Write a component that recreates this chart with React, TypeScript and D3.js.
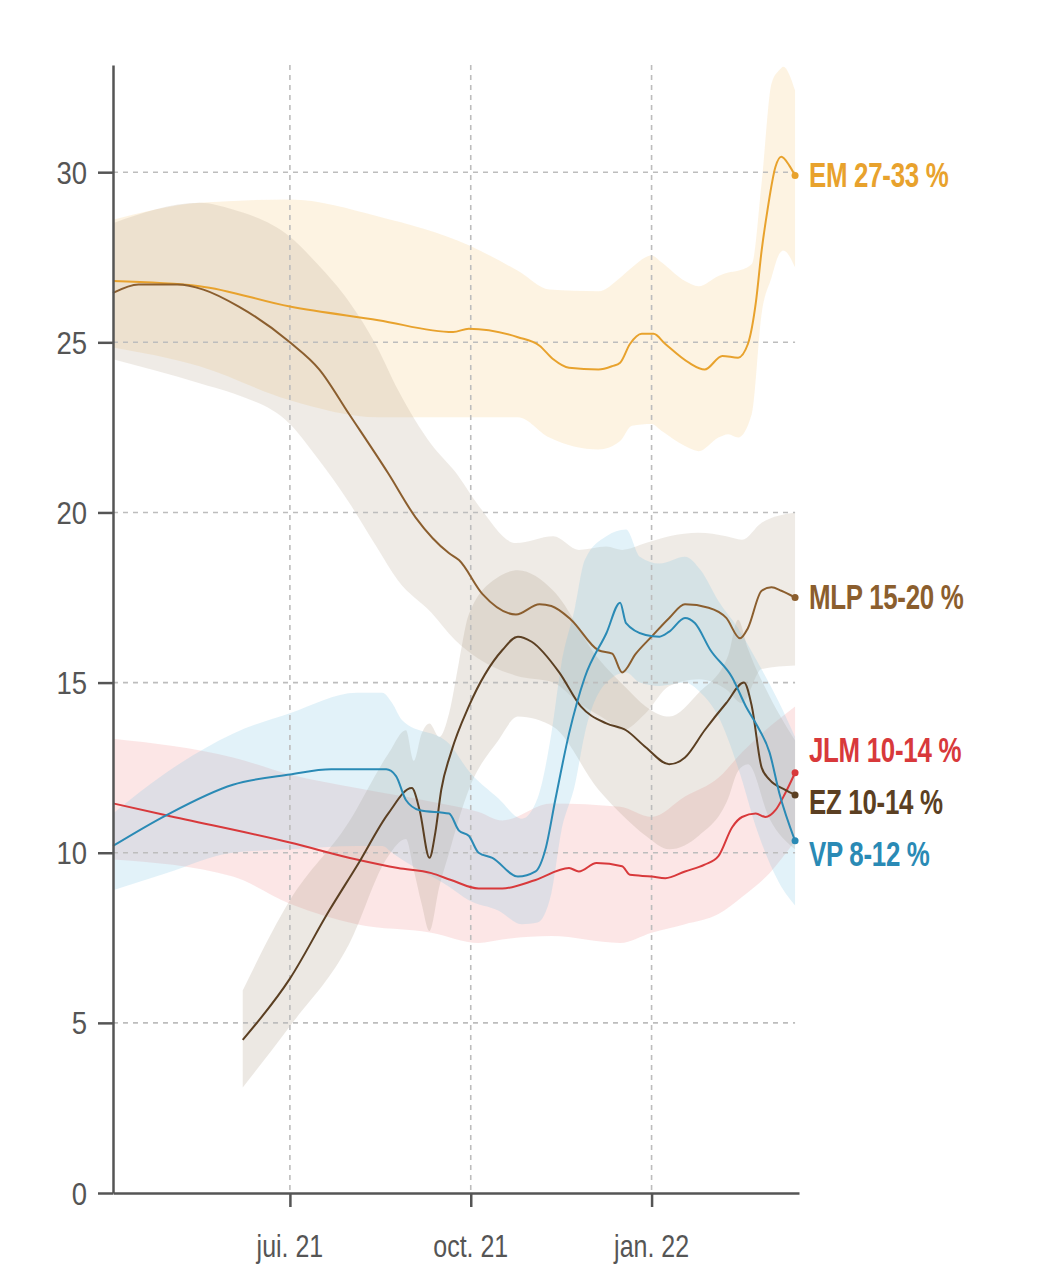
import React, { useEffect, useRef } from "react";
import * as d3 from "d3";

type Pt = [string, number];
type Band = [string, number, number];

const emLine: Pt[] = [
  ["2021-04-02", 26.8], ["2021-05-16", 26.65], ["2021-07-01", 26.05], ["2021-08-15", 25.65],
  ["2021-09-22", 25.3], ["2021-09-30", 25.4], ["2021-10-25", 25.15], ["2021-11-05", 24.9],
  ["2021-11-12", 24.5], ["2021-11-20", 24.25], ["2021-12-05", 24.2], ["2021-12-12", 24.3],
  ["2021-12-16", 24.4], ["2021-12-21", 24.95], ["2021-12-27", 25.25], ["2022-01-02", 25.25],
  ["2022-01-08", 24.95], ["2022-01-20", 24.4], ["2022-01-28", 24.2], ["2022-02-06", 24.6],
  ["2022-02-14", 24.55], ["2022-02-19", 24.95], ["2022-02-23", 26.15], ["2022-02-26", 27.7],
  ["2022-03-01", 28.9], ["2022-03-05", 30.15], ["2022-03-08", 30.45], ["2022-03-12", 30.2],
  ["2022-03-15", 29.9],
];

const mlpLine: Pt[] = [
  ["2021-04-02", 26.45], ["2021-04-15", 26.7], ["2021-05-05", 26.7], ["2021-05-18", 26.55],
  ["2021-06-05", 26.05], ["2021-07-01", 25.0], ["2021-07-16", 24.2], ["2021-07-31", 22.9],
  ["2021-08-20", 21.15], ["2021-09-03", 19.85], ["2021-09-20", 18.8], ["2021-09-25", 18.6],
  ["2021-10-07", 17.6], ["2021-10-24", 17.0], ["2021-11-05", 17.3], ["2021-11-11", 17.25],
  ["2021-11-21", 16.85], ["2021-12-05", 15.95], ["2021-12-12", 15.85], ["2021-12-17", 15.3],
  ["2021-12-24", 15.85], ["2022-01-01", 16.35], ["2022-01-10", 16.9], ["2022-01-18", 17.3],
  ["2022-01-30", 17.2], ["2022-02-08", 16.9], ["2022-02-15", 16.3], ["2022-02-19", 16.6],
  ["2022-02-26", 17.7], ["2022-03-03", 17.8], ["2022-03-08", 17.7], ["2022-03-15", 17.5],
];

const jlmLine: Pt[] = [
  ["2021-04-02", 11.45], ["2021-04-29", 11.1], ["2021-07-01", 10.3], ["2021-08-04", 9.8],
  ["2021-08-25", 9.55], ["2021-09-11", 9.4], ["2021-09-21", 9.2], ["2021-10-05", 8.95],
  ["2021-10-17", 8.95], ["2021-11-03", 9.2], ["2021-11-20", 9.55], ["2021-11-25", 9.45],
  ["2021-12-04", 9.7], ["2021-12-17", 9.6], ["2021-12-21", 9.35], ["2022-01-01", 9.3],
  ["2022-01-08", 9.25], ["2022-01-18", 9.45], ["2022-01-28", 9.65], ["2022-02-04", 9.9],
  ["2022-02-11", 10.75], ["2022-02-16", 11.05], ["2022-02-23", 11.15], ["2022-02-28", 11.05],
  ["2022-03-05", 11.25], ["2022-03-10", 11.75], ["2022-03-15", 12.35],
];

const ezLine: Pt[] = [
  ["2021-06-07", 4.5], ["2021-07-01", 6.3], ["2021-07-21", 8.3], ["2021-08-05", 9.7],
  ["2021-08-20", 11.15], ["2021-09-01", 11.9], ["2021-09-05", 11.25], ["2021-09-10", 9.85],
  ["2021-09-13", 10.6], ["2021-09-16", 11.85], ["2021-09-21", 12.95], ["2021-09-30", 14.3],
  ["2021-10-17", 15.95], ["2021-10-25", 16.35], ["2021-11-01", 16.2], ["2021-11-15", 15.3],
  ["2021-11-26", 14.3], ["2021-12-09", 13.8], ["2021-12-19", 13.6], ["2021-12-29", 13.1],
  ["2022-01-10", 12.6], ["2022-01-18", 12.8], ["2022-01-28", 13.6], ["2022-02-08", 14.4],
  ["2022-02-17", 15.0], ["2022-02-21", 14.3], ["2022-02-26", 12.5], ["2022-03-02", 12.15],
  ["2022-03-10", 11.85], ["2022-03-15", 11.7],
];

const vpLine: Pt[] = [
  ["2021-04-02", 10.2], ["2021-04-29", 11.1], ["2021-06-02", 12.0], ["2021-07-01", 12.3],
  ["2021-07-22", 12.45], ["2021-08-19", 12.45], ["2021-08-24", 12.25], ["2021-08-29", 11.55],
  ["2021-09-05", 11.25], ["2021-09-20", 11.15], ["2021-09-25", 10.65], ["2021-09-30", 10.5],
  ["2021-10-05", 10.0], ["2021-10-12", 9.85], ["2021-10-25", 9.3], ["2021-11-03", 9.45],
  ["2021-11-08", 10.1], ["2021-11-13", 11.55], ["2021-11-20", 13.5], ["2021-11-28", 15.15],
  ["2021-12-09", 16.45], ["2021-12-16", 17.35], ["2021-12-19", 16.75], ["2021-12-29", 16.4],
  ["2022-01-05", 16.35], ["2022-01-10", 16.5], ["2022-01-18", 16.9], ["2022-01-23", 16.75],
  ["2022-01-31", 15.95], ["2022-02-11", 15.15], ["2022-02-18", 14.3], ["2022-02-24", 13.7],
  ["2022-03-02", 12.95], ["2022-03-07", 11.75], ["2022-03-15", 10.35],
];

const emBand: Band[] = [
  ["2021-04-02", 24.85, 28.6], ["2021-05-16", 24.3, 29.1], ["2021-07-01", 23.3, 29.2],
  ["2021-08-15", 22.8, 28.7], ["2021-09-30", 22.8, 27.85], ["2021-10-25", 22.8, 27.1],
  ["2021-11-10", 22.2, 26.55], ["2021-12-05", 21.85, 26.5], ["2021-12-16", 22.1, 26.9],
  ["2021-12-22", 22.55, 27.2], ["2022-01-01", 22.6, 27.55], ["2022-01-06", 22.4, 27.35],
  ["2022-01-18", 21.95, 26.8], ["2022-01-25", 21.8, 26.65], ["2022-02-04", 22.2, 26.95],
  ["2022-02-09", 22.3, 27.05], ["2022-02-14", 22.2, 27.1], ["2022-02-21", 22.9, 27.3],
  ["2022-02-26", 25.85, 29.7], ["2022-03-03", 26.9, 32.6], ["2022-03-07", 27.6, 33.0],
  ["2022-03-09", 27.7, 33.1], ["2022-03-15", 27.2, 32.4],
];

const mlpBand: Band[] = [
  ["2021-04-02", 24.5, 28.5], ["2021-05-16", 23.8, 29.1], ["2021-06-02", 23.5, 28.9],
  ["2021-07-01", 22.6, 28.1], ["2021-07-15", 21.6, 27.3], ["2021-07-31", 20.3, 26.2],
  ["2021-08-14", 19.0, 24.9], ["2021-08-25", 18.0, 23.6], ["2021-09-11", 17.05, 22.0],
  ["2021-09-23", 16.25, 21.2], ["2021-10-05", 15.7, 20.2], ["2021-10-24", 15.2, 19.1],
  ["2021-11-12", 15.0, 19.3], ["2021-11-25", 14.4, 18.9], ["2021-12-09", 13.9, 19.0],
  ["2021-12-17", 13.6, 18.9], ["2021-12-29", 14.1, 19.1], ["2022-01-10", 14.9, 19.3],
  ["2022-01-25", 15.1, 19.4], ["2022-02-08", 14.8, 19.3], ["2022-02-16", 14.4, 19.2],
  ["2022-02-26", 15.4, 19.7], ["2022-03-15", 15.5, 20.0],
];

const ezBand: Band[] = [
  ["2021-06-07", 3.1, 5.95], ["2021-07-01", 4.9, 8.6], ["2021-07-31", 7.3, 10.9],
  ["2021-08-20", 9.9, 12.9], ["2021-08-29", 10.4, 13.6], ["2021-09-02", 9.5, 12.7],
  ["2021-09-06", 8.5, 13.5], ["2021-09-10", 7.7, 13.8], ["2021-09-15", 9.0, 13.4],
  ["2021-09-20", 10.0, 14.1], ["2021-09-25", 11.0, 15.6], ["2021-09-30", 11.85, 17.0],
  ["2021-10-15", 13.3, 18.1], ["2021-10-25", 14.0, 18.3], ["2021-11-12", 13.7, 17.7],
  ["2021-12-05", 11.85, 15.7], ["2021-12-19", 11.0, 14.85], ["2021-12-29", 10.5, 14.3],
  ["2022-01-10", 10.1, 14.0], ["2022-01-25", 10.5, 14.7], ["2022-02-09", 11.6, 15.8],
  ["2022-02-14", 12.4, 16.85], ["2022-02-19", 12.6, 16.0], ["2022-03-02", 11.0, 14.6],
  ["2022-03-15", 10.1, 13.3],
];

const vpBand: Band[] = [
  ["2021-04-02", 8.9, 11.15], ["2021-04-29", 9.4, 12.35], ["2021-06-02", 10.0, 13.5],
  ["2021-07-01", 10.1, 14.1], ["2021-08-04", 10.2, 14.7], ["2021-08-17", 10.2, 14.7],
  ["2021-08-22", 10.0, 14.4], ["2021-08-27", 9.8, 13.9], ["2021-09-20", 9.0, 13.2],
  ["2021-09-30", 8.6, 12.4], ["2021-10-15", 8.3, 11.6], ["2021-10-27", 7.9, 11.0],
  ["2021-11-04", 7.95, 11.6], ["2021-11-11", 8.8, 13.5], ["2021-11-16", 10.6, 15.5],
  ["2021-11-23", 12.0, 17.2], ["2021-11-28", 13.5, 18.6], ["2021-12-09", 15.0, 19.3],
  ["2021-12-19", 15.3, 19.5], ["2021-12-26", 15.0, 18.7], ["2022-01-05", 14.9, 18.5],
  ["2022-01-18", 15.0, 18.7], ["2022-01-26", 14.7, 18.3], ["2022-02-04", 14.0, 17.4],
  ["2022-02-14", 12.5, 16.6], ["2022-02-24", 10.6, 15.6], ["2022-03-07", 9.1, 14.4],
  ["2022-03-15", 8.45, 13.4],
];

const jlmBand: Band[] = [
  ["2021-04-02", 9.8, 13.35], ["2021-06-02", 9.3, 12.8], ["2021-07-01", 8.5, 12.3],
  ["2021-08-04", 7.9, 11.9], ["2021-09-11", 7.65, 11.5], ["2021-10-05", 7.35, 11.2],
  ["2021-10-17", 7.45, 10.95], ["2021-11-11", 7.55, 11.45], ["2021-12-16", 7.35, 11.35],
  ["2022-01-01", 7.65, 11.05], ["2022-01-18", 7.9, 11.65], ["2022-02-04", 8.2, 12.2],
  ["2022-02-16", 8.7, 12.95], ["2022-03-02", 9.4, 13.7], ["2022-03-15", 10.35, 14.3],
];

const seriesNames = ["EM", "MLP", "JLM", "EZ", "VP"];
const seriesRanges = ["27-33 %", "15-20 %", "10-14 %", "10-14 %", "8-12 %"];
const lineColors = ["#e8a22d", "#8b5e2e", "#d8393b", "#5b3f22", "#2a8ab5"];
const bandColors = ["#f5c77a", "#b5a48c", "#f59a9a", "#a8987f", "#7cc3e3"];
const lines = [emLine, mlpLine, jlmLine, ezLine, vpLine];
const bands = [emBand, mlpBand, jlmBand, ezBand, vpBand];

const yTicks = [0, 5, 10, 15, 20, 25, 30];
const xTicks = ["2021-07-01", "2021-10-01", "2022-01-01"];
const xTickLabels = ["jui. 21", "oct. 21", "jan. 22"];

// no condensed face installed, so Liberation Sans squeezed horizontally
const FONT = "'Liberation Sans', Arial, sans-serif";
const SQUEEZE = 0.78;

const App: React.FC = () => {
  const svgRef = useRef<SVGSVGElement | null>(null);

  useEffect(() => {
    const svg = d3.select(svgRef.current);
    svg.selectAll("*").remove();

    const width = 1039;
    const height = 1288;
    const parse = d3.timeParse("%Y-%m-%d");

    const x = d3
      .scaleTime()
      .domain([parse("2021-04-02")!, parse("2022-03-17")!])
      .range([113, 799]);
    const y = d3.scaleLinear().domain([0, 33.15]).range([1193, 65]);
    const gridRight = x(parse("2022-03-15")!);

    svg.attr("width", width).attr("height", height);

    const squeezedText = (
      px: number,
      py: number,
      str: string,
      color: string,
      size: number,
      weight: string,
      anchor: string,
      sx: number
    ) =>
      svg
        .append("text")
        .attr("transform", `translate(${px},${py}) scale(${sx},1)`)
        .attr("fill", color)
        .attr("text-anchor", anchor)
        .style("font-family", FONT)
        .style("font-size", `${size}px`)
        .style("font-weight", weight)
        .text(str);

    // bands first, they sit under the grid
    const area = d3
      .area<Band>()
      .x((d) => x(parse(d[0])!))
      .y0((d) => y(d[1]))
      .y1((d) => y(d[2]))
      .curve(d3.curveMonotoneX);

    bands.forEach((b, i) => {
      svg
        .append("path")
        .attr("d", area(b)!)
        .attr("fill", bandColors[i])
        .attr("fill-opacity", i === 2 ? 0.25 : 0.22);
    });

    // grid
    svg
      .append("g")
      .selectAll("line")
      .data(yTicks.filter((t) => t > 0))
      .enter()
      .append("line")
      .attr("x1", 113)
      .attr("x2", gridRight)
      .attr("y1", (d) => y(d))
      .attr("y2", (d) => y(d))
      .attr("stroke", "#bdbdbd")
      .attr("stroke-width", 1.6)
      .attr("stroke-dasharray", "5,5");

    svg
      .append("g")
      .selectAll("line")
      .data(xTicks)
      .enter()
      .append("line")
      .attr("x1", (d) => x(parse(d)!))
      .attr("x2", (d) => x(parse(d)!))
      .attr("y1", y(33.15))
      .attr("y2", y(0))
      .attr("stroke", "#bdbdbd")
      .attr("stroke-width", 1.6)
      .attr("stroke-dasharray", "5,5");

    const line = d3
      .line<Pt>()
      .x((d) => x(parse(d[0])!))
      .y((d) => y(d[1]))
      .curve(d3.curveMonotoneX);

    lines.forEach((l, i) => {
      svg
        .append("path")
        .attr("d", line(l)!)
        .attr("fill", "none")
        .attr("stroke", lineColors[i])
        .attr("stroke-width", 2);
      const last = l[l.length - 1];
      svg
        .append("circle")
        .attr("cx", x(parse(last[0])!))
        .attr("cy", y(last[1]))
        .attr("r", 3.5)
        .attr("fill", lineColors[i]);
    });

    // labels, pushed apart when they collide
    const gap = 52;
    const items = lines
      .map((l, i) => ({ i, ideal: y(l[l.length - 1][1]) + 11 }))
      .sort((a, b) => a.ideal - b.ideal);
    let clusters = items.map((it) => ({ members: [it], pos: it.ideal }));
    let merged = true;
    while (merged) {
      merged = false;
      for (let k = 0; k < clusters.length - 1; k++) {
        const a = clusters[k];
        const b = clusters[k + 1];
        if (a.pos + a.members.length * gap > b.pos) {
          const members = [...a.members, ...b.members];
          const pos = d3.mean(members, (m, j) => m.ideal - j * gap)!;
          clusters.splice(k, 2, { members, pos });
          merged = true;
          break;
        }
      }
    }
    clusters.forEach((c) => {
      c.members.forEach((m, j) => {
        squeezedText(
          809,
          c.pos + j * gap,
          `${seriesNames[m.i]} ${seriesRanges[m.i]}`,
          lineColors[m.i],
          35,
          "bold",
          "start",
          0.74
        ).style("letter-spacing", "-0.4px");
      });
    });

    // axes
    const yAxis = d3
      .axisLeft(y)
      .tickValues(yTicks)
      .tickSize(15)
      .tickSizeOuter(0)
      .tickFormat(() => "");
    const yAxisGroup = svg.append("g").attr("transform", "translate(113,0)").call(yAxis);

    const xAxis = d3
      .axisBottom(x)
      .tickValues(xTicks.map((d) => parse(d)!))
      .tickSize(14)
      .tickSizeOuter(0)
      .tickFormat(() => "");
    const xAxisGroup = svg.append("g").attr("transform", "translate(0,1193)").call(xAxis as any);

    [yAxisGroup, xAxisGroup].forEach((g) => {
      g.select(".domain").attr("stroke", "#555").attr("stroke-width", 2.5);
      g.selectAll(".tick line").attr("stroke", "#555").attr("stroke-width", 2.5);
    });

    yTicks.forEach((t) => {
      squeezedText(87, y(t) + 11.5, String(t), "#555", 32, "normal", "end", 0.86);
    });
    xTicks.forEach((d, i) => {
      squeezedText(x(parse(d)!), 1257, xTickLabels[i], "#555", 32, "normal", "middle", SQUEEZE);
    });
  }, []);

  return (
    <div style={{ position: "absolute", left: 0, top: 0, background: "#fff" }}>
      <svg ref={svgRef} />
    </div>
  );
};

export default App;
